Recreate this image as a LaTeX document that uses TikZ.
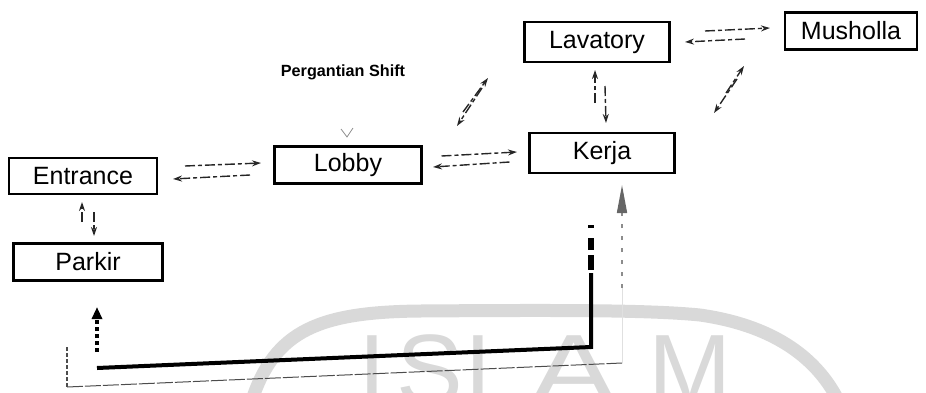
\documentclass[tikz,border=0pt]{standalone}
\usepackage{fontspec}
\setmainfont{Liberation Sans}
\usetikzlibrary{arrows.meta,calc}
\begin{document}
\begin{tikzpicture}[x=0.5pt,y=-0.5pt,
  roombox/.style={draw, line width=1.4pt, inner sep=0pt, outer sep=0pt,
    font=\fontsize{12.5}{14}\selectfont},
  pairarr/.style={-{Stealth[length=4.5pt,width=3pt]}, line width=0.7pt,
    black!85, dash pattern=on 5pt off 1.5pt on 2pt off 1.5pt},
  thickline/.style={line width=2pt, black},
  thickdash/.style={line width=2.8pt, black, dash pattern=on 1.5pt off 5pt on 6pt off 2.5pt on 7.5pt off 1.5pt},
  updash/.style={line width=2.4pt, black, dash pattern=on 2pt off 1.5pt},
  thinline/.style={line width=0.5pt, black!70, dash pattern=on 8pt off 1pt},
  wm/.style={black!15, font=\fontsize{50}{50}\selectfont, inner sep=0pt, anchor=base}]
\useasboundingbox (0,0) rectangle (926,392);
% watermark
\begin{scope}
\clip (0,0) rectangle (926,392);
\draw[black!15, line width=6.5pt] (252,400) .. controls (275,330) and (320,312) .. (420,311)
  .. controls (560,310) and (650,310) .. (700,315) .. controls (770,325) and (815,355) .. (838,400);
\node[wm] (wI) at (372,404) {I};
\node[wm] (wS) at (430,404) {S};
\node[wm] (wL) at (493,404) {L};
\node[wm, xscale=1.3] (wA) at (574,404) {A};
\node[wm] (wM) at (690,404) {M};
\end{scope}
% rooms
\node[roombox, minimum width=74pt, minimum height=18pt] (entrance) at (83,176) {Entrance};
\node[roombox, minimum width=74.5pt, minimum height=18.5pt] (parkir) at (88,262) {Parkir};
\node[roombox, minimum width=73.5pt, minimum height=18.5pt] (lobby) at (348,165) {Lobby};
\node[roombox, minimum width=72.5pt, minimum height=20pt] (kerja) at (602,153) {Kerja};
\node[roombox, minimum width=72.5pt, minimum height=20pt] (lavatory) at (597,42) {Lavatory};
\node[roombox, minimum width=66pt, minimum height=18.5pt] (musholla) at (851,31) {Musholla};
\node[font=\bfseries\fontsize{8.1}{10}\selectfont] (shift) at (343,72) {Pergantian Shift};
% small mark above lobby
\draw[black!45, line width=0.4pt] ([shift={(-7,-17.5)}]lobby.north) -- ([shift={(-1,-9.5)}]lobby.north) -- ([shift={(5,-18.5)}]lobby.north);
% entrance - lobby
\draw[pairarr] ([shift={(28,-10)}]entrance.east) -- ([shift={(-13.5,-2)}]lobby.west);
\draw[pairarr] ([shift={(-24.5,10)}]lobby.west) -- ([shift={(16,3)}]entrance.east);
% lobby - kerja
\draw[pairarr] ([shift={(20,-9)}]lobby.east) -- ([shift={(-12.5,-1)}]kerja.west);
\draw[pairarr] ([shift={(-20,9)}]kerja.west) -- ([shift={(11.5,2)}]lobby.east);
% entrance - parkir
\draw[pairarr] ([shift={(-6,-21.5)}]parkir.north) -- ([shift={(-1,8)}]entrance.south);
\draw[pairarr] ([shift={(11,18)}]entrance.south) -- ([shift={(6,-7.5)}]parkir.north);
% lobby - lavatory
\draw[pairarr] ([shift={(41.5,-34.5)}]lobby.north east) -- ([shift={(-36.5,16)}]lavatory.south west);
\draw[pairarr] ([shift={(-42.5,26)}]lavatory.south west) -- ([shift={(35.5,-20.5)}]lobby.north east);
% lavatory - kerja
\draw[pairarr] ([shift={(-7,-30)}]kerja.north) -- ([shift={(-2,8)}]lavatory.south);
\draw[pairarr] ([shift={(8,24)}]lavatory.south) -- ([shift={(4,-10)}]kerja.north);
% lavatory - musholla
\draw[pairarr] ([shift={(35.5,-11)}]lavatory.east) -- ([shift={(-15,-3)}]musholla.west);
\draw[pairarr] ([shift={(-40,8)}]musholla.west) -- ([shift={(15.5,0)}]lavatory.east);
% kerja - musholla
\draw[pairarr] ([shift={(51.5,-40)}]kerja.north east) -- ([shift={(-41,16.5)}]musholla.south west);
\draw[pairarr] ([shift={(-48,29.5)}]musholla.south west) -- ([shift={(39.5,-20)}]kerja.north east);
% thick route kerja -> parkir
\coordinate (c1) at ([shift={(-11,174)}]kerja.south);
\coordinate (c2) at ([shift={(9,87.5)}]parkir.south);
\draw[thickdash] ([shift={(-11,52)}]kerja.south) -- ([shift={(-11,100)}]kerja.south);
\draw[thickline] ([shift={(-11,100)}]kerja.south) -- (c1) -- (c2);
\draw[updash, -{Triangle[length=6pt,width=5pt]}] ([shift={(9,71.5)}]parkir.south) -- ([shift={(9,26.5)}]parkir.south);
% thin route parkir -> kerja
\coordinate (d1) at ([shift={(-21,106.5)}]parkir.south);
\coordinate (d2) at ([shift={(20,190)}]kerja.south);
\coordinate (d3) at ([shift={(20,115)}]kerja.south);
\draw[line width=1pt, black!70, dash pattern=on 2pt off 1pt] ([shift={(-21,66.5)}]parkir.south) -- (d1);
\draw[thinline] (d1) -- (d2);
\draw[line width=0.4pt, black!12] (d2) -- (d3);
\draw[line width=0.8pt, black!45, dash pattern=on 2pt off 4pt, -{Triangle[length=14pt,width=5pt,black!60]}] (d3) -- ([shift={(20,12)}]kerja.south);
\end{tikzpicture}
\end{document}
